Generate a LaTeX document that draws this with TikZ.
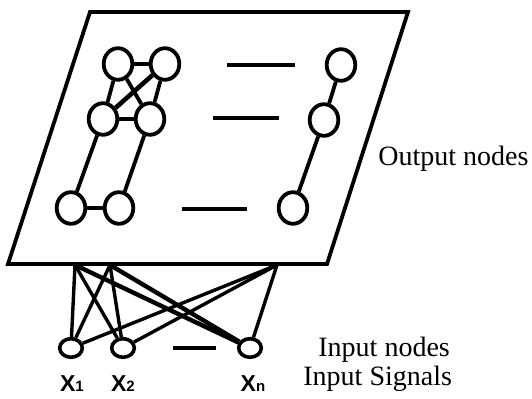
\documentclass[tikz,border=0pt]{standalone}
\usepackage{fontspec}
\setmainfont{Liberation Serif}
\newfontfamily\xfont{Liberation Sans}
\usetikzlibrary{positioning,shapes.geometric}

\begin{document}
\begin{tikzpicture}[x=0.5pt, y=-0.5pt,
  onode/.style={draw, ellipse, line width=1.9pt, minimum width=14.3pt, minimum height=15.8pt, inner sep=0pt},
  inode/.style={draw, ellipse, line width=1.8pt, minimum width=11.3pt, minimum height=9.3pt, inner sep=0pt},
  link/.style={line width=1.9pt},
  wire/.style={line width=1.7pt},
  gap/.style={line width=1.9pt},
  lbl/.style={font=\fontsize{14}{16}\selectfont, inner sep=0pt},
  xlbl/.style={font=\xfont\bfseries\fontsize{11.5}{13}\selectfont, inner sep=0pt}
]
  \useasboundingbox (0,0) rectangle (532,399);

  % output plane
  \draw[line width=1.9pt] (90,12) -- (408,12) -- (327,264) -- (8,264) -- cycle;

  % output nodes
  \node[onode] (a1) at (118,64)  {};
  \node[onode] (a2) at (165,64)  {};
  \node[onode] (b1) at (103,119) {};
  \node[onode] (b2) at (150,119) {};
  \node[onode] (c1) at (71,208)  {};
  \node[onode] (c2) at (119,208) {};
  \node[onode] (r1) at (341,65)  {};
  \node[onode] (r2) at (324,120) {};
  \node[onode] (r3) at (293,208) {};

  \draw[link] (a1) -- (a2)  (a1) -- (b1)  (a1) -- (b2)  (a2) -- (b2)
              (b1) -- (b2)  (b1) -- (c1)  (b2) -- (c2)  (c1) -- (c2)
              (r1) -- (r2)  (r2) -- (r3);
  \draw[link, line width=2.3pt] (a2) -- (b1);

  \draw[gap] (227,65) -- (295,65);
  \draw[gap] (213,118) -- (279,118);
  \draw[gap] (182,209) -- (247,209);

  % input nodes
  \node[inode] (x1) at (71,348)  {};
  \node[inode] (x2) at (123,348) {};
  \node[inode] (xn) at (250,348) {};
  \draw[gap] (173,348) -- (216,348);

  \coordinate (pa) at (75,265);
  \coordinate (pb) at (110,265);
  \coordinate (pd) at (277,265);

  \foreach \p in {pa,pb,pd}
    \foreach \x in {x1,x2}
      \draw[wire] (\p) -- (\x);
  \draw[wire, line width=2.2pt] (pa) -- (xn);
  \draw[wire, line width=2.2pt] (pb) -- (xn);
  \draw[wire] (pd) -- (xn);

  % labels
  \node[xlbl, anchor=base] (l1) at (72,392)  {X{\fontsize{7.5}{8}\selectfont 1}};
  \node[xlbl, anchor=base] (l2) at (123,392) {X{\fontsize{7.5}{8}\selectfont 2}};
  \node[xlbl, anchor=base] (ln) at (253,392) {X{\fontsize{7.5}{8}\selectfont n}};

  \node[lbl, anchor=base west] (outlbl) at (378,166) {Output nodes};
  \node[lbl, anchor=base west] (inlbl)  at (318,357) {Input nodes};
  \node[lbl, anchor=base west] (siglbl) at (303,386) {Input Signals};
\end{tikzpicture}
\end{document}
